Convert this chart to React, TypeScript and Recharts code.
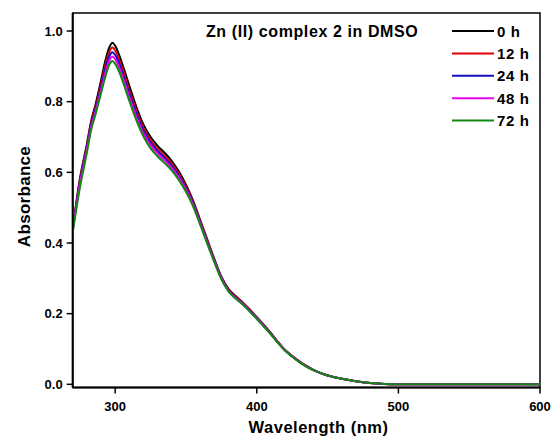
import React from "react";
import { LineChart, Line, XAxis, YAxis, ReferenceArea } from "recharts";

const wavelengths = [270,275,280,283,286,290,293,296,298,300,303,306,310,315,320,325,330,335,340,345,350,355,360,365,370,375,380,385,390,395,400,405,410,415,420,425,430,435,440,450,460,470,480,490,500,600];

const abs0h = [0.44,0.58,0.68,0.745,0.79,0.86,0.915,0.955,0.967,0.958,0.93,0.895,0.845,0.785,0.735,0.70,0.675,0.655,0.632,0.602,0.565,0.52,0.465,0.41,0.355,0.305,0.27,0.25,0.232,0.212,0.19,0.168,0.145,0.12,0.097,0.08,0.065,0.052,0.041,0.025,0.016,0.009,0.004,0.001,0,0];
const abs12h = [0.438,0.575,0.675,0.74,0.783,0.85,0.903,0.942,0.953,0.945,0.918,0.883,0.833,0.775,0.726,0.691,0.667,0.647,0.625,0.596,0.56,0.516,0.462,0.407,0.353,0.303,0.268,0.248,0.231,0.211,0.189,0.167,0.144,0.119,0.097,0.08,0.065,0.052,0.041,0.025,0.016,0.009,0.004,0.001,0,0];
const abs24h = [0.436,0.57,0.67,0.735,0.777,0.842,0.892,0.93,0.94,0.932,0.906,0.872,0.823,0.766,0.718,0.684,0.66,0.64,0.618,0.59,0.555,0.512,0.459,0.404,0.351,0.301,0.266,0.246,0.229,0.209,0.188,0.166,0.143,0.118,0.096,0.079,0.064,0.051,0.04,0.025,0.016,0.009,0.004,0.001,0,0];
const abs48h = [0.434,0.565,0.664,0.728,0.77,0.833,0.881,0.918,0.928,0.92,0.895,0.862,0.813,0.757,0.71,0.677,0.653,0.634,0.612,0.585,0.551,0.509,0.456,0.402,0.349,0.3,0.265,0.245,0.228,0.208,0.187,0.165,0.142,0.118,0.096,0.079,0.064,0.051,0.04,0.025,0.016,0.009,0.004,0.001,0,0];
const abs72h = [0.43,0.555,0.655,0.72,0.762,0.824,0.87,0.906,0.915,0.907,0.883,0.85,0.802,0.747,0.701,0.668,0.645,0.626,0.605,0.578,0.545,0.504,0.452,0.398,0.346,0.297,0.263,0.243,0.226,0.206,0.185,0.163,0.141,0.117,0.095,0.078,0.063,0.05,0.04,0.025,0.016,0.009,0.004,0.001,0,0];

const seriesNames = ["0 h", "12 h", "24 h", "48 h", "72 h"];
const seriesKeys = ["h0", "h12", "h24", "h48", "h72"];
const seriesColors = ["#000000", "#e00000", "#1010c0", "#ee00ee", "#118811"];
const seriesValues = [abs0h, abs12h, abs24h, abs48h, abs72h];

const xTicks = [300, 400, 500, 600];
const yTicks = [0, 0.2, 0.4, 0.6, 0.8, 1.0];
const titleText = "Zn (II) complex 2 in DMSO";
const xLabel = "Wavelength (nm)";
const yLabel = "Absorbance";

const data = wavelengths.map((w, i) => {
  const row: Record<string, number> = { w };
  seriesKeys.forEach((k, j) => {
    row[k] = seriesValues[j][i];
  });
  return row;
});

const FONT = "'Liberation Sans', Arial, sans-serif";

export default function App() {
  return (
    <div style={{ position: "absolute", left: 0, top: 0, width: 555, height: 439, background: "#fff" }}>
      <LineChart
        width={555}
        height={439}
        data={data}
        margin={{ top: 13, right: 15, bottom: 0, left: 0 }}
      >
        <XAxis
          dataKey="w"
          type="number"
          domain={[270, 600]}
          ticks={xTicks}
          allowDataOverflow
          height={51.5}
          tickSize={6}
          tickMargin={8}
          axisLine={{ stroke: "#000", strokeWidth: 2 }}
          tickLine={{ stroke: "#000", strokeWidth: 1.5 }}
          tick={{ fill: "#000", fontSize: 13, fontWeight: "bold", fontFamily: FONT }}
        />
        <YAxis
          type="number"
          domain={[-0.009, 1.051]}
          ticks={yTicks}
          allowDataOverflow
          width={72.7}
          tickSize={6}
          tickMargin={4}
          tickFormatter={(v: number) => v.toFixed(1)}
          axisLine={{ stroke: "#000", strokeWidth: 2 }}
          tickLine={{ stroke: "#000", strokeWidth: 1.5 }}
          tick={{ fill: "#000", fontSize: 13, fontWeight: "bold", fontFamily: FONT }}
        />
        <ReferenceArea
          x1={270}
          x2={600}
          y1={-0.009}
          y2={1.051}
          fill="none"
          stroke="#000"
          strokeWidth={1.5}
          ifOverflow="visible"
        />
        {seriesKeys.map((k, j) => (
          <Line
            key={k}
            dataKey={k}
            name={seriesNames[j]}
            type="monotone"
            stroke={seriesColors[j]}
            strokeWidth={2}
            dot={false}
            isAnimationActive={false}
          />
        ))}
      </LineChart>
      <svg
        width={555}
        height={439}
        style={{ position: "absolute", left: 0, top: 0, pointerEvents: "none" }}
      >
        <text x={206} y={36.5} fontFamily={FONT} fontWeight="bold" fontSize={16} letterSpacing={0.6} fill="#000">
          {titleText}
        </text>
        {seriesNames.map((n, j) => (
          <g key={n}>
            <line x1={452} x2={494} y1={31 + j * 22.4} y2={31 + j * 22.4} stroke={seriesColors[j]} strokeWidth={2} />
            <text x={497} y={36.5 + j * 22.4} fontFamily={FONT} fontWeight="bold" fontSize={15} letterSpacing={0.6} fill="#000">
              {n}
            </text>
          </g>
        ))}
        <text x={318.5} y={432.5} textAnchor="middle" fontFamily={FONT} fontWeight="bold" fontSize={16.5} letterSpacing={0.5} fill="#000">
          {xLabel}
        </text>
        <text
          x={0}
          y={0}
          transform="translate(30,196.5) rotate(-90)"
          textAnchor="middle"
          fontFamily={FONT}
          fontWeight="bold"
          fontSize={17}
          letterSpacing={0.3}
          fill="#000"
        >
          {yLabel}
        </text>
      </svg>
    </div>
  );
}
